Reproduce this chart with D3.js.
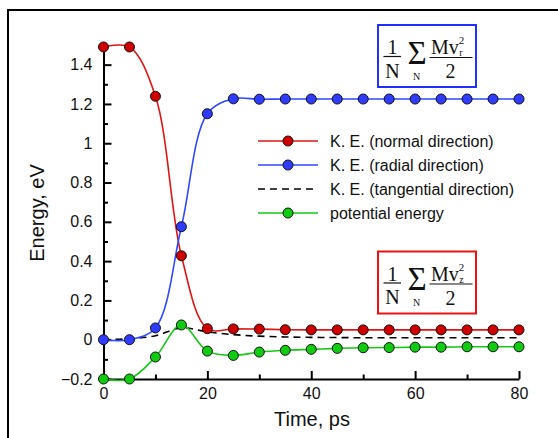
<!DOCTYPE html>
<html>
<head>
<meta charset="utf-8">
<script src="https://cdn.jsdelivr.net/npm/d3@7"></script>
<style>
  body { margin: 0; background: #fff; }
  svg { display: block; font-family: "Liberation Sans", Arial, sans-serif; }
</style>
</head>
<body>
<svg id="chart" width="558" height="438"></svg>
<script>
// data, one value every 5 ps
const time = [0, 5, 10, 15, 20, 25, 30, 35, 40, 45, 50, 55, 60, 65, 70, 75, 80];
const keNormal = [1.49, 1.49, 1.239, 0.427, 0.056, 0.055, 0.054, 0.051, 0.05, 0.05, 0.05, 0.05, 0.05, 0.05, 0.05, 0.05, 0.05];
const keRadial = [0, 0, 0.06, 0.575, 1.15, 1.226, 1.224, 1.225, 1.225, 1.225, 1.225, 1.225, 1.225, 1.225, 1.225, 1.225, 1.225];
const keTangential = [0, 0.005, 0.02, 0.06, 0.04, 0.026, 0.018, 0.014, 0.012, 0.011, 0.01, 0.01, 0.01, 0.01, 0.01, 0.01, 0.01];
const potential = [-0.2, -0.2, -0.088, 0.075, -0.058, -0.08, -0.063, -0.054, -0.049, -0.044, -0.041, -0.04, -0.038, -0.038, -0.036, -0.036, -0.036];

const xTicks = [0, 20, 40, 60, 80];
const xMinorTicks = [10, 30, 50, 70];
const yTicks = [-0.2, 0, 0.2, 0.4, 0.6, 0.8, 1, 1.2, 1.4];
const yMinorTicks = [-0.1, 0.1, 0.3, 0.5, 0.7, 0.9, 1.1, 1.3];

const legendLabels = ['K. E. (normal direction)', 'K. E. (radial direction)', 'K. E. (tangential direction)', 'potential energy'];

const series = [
  { values: keNormal, line: '#e01515', fill: '#d00000', markers: true },
  { values: keRadial, line: '#3048ff', fill: '#2f3cff', markers: true },
  { values: keTangential, line: '#000', fill: null, markers: false, dash: '7,5' },
  { values: potential, line: '#14c814', fill: '#10cc10', markers: true },
];

const svg = d3.select('#chart');

const x = d3.scaleLinear().domain([0, 80]).range([103.5, 519]);
const y = d3.scaleLinear().domain([-0.2, 1.5]).range([379, 45]);

// outer frame (only top and left edges show)
svg.append('path')
  .attr('d', 'M8,440V10H560')
  .attr('fill', 'none')
  .attr('stroke', '#000')
  .attr('stroke-width', 2);

const yFormat = d => (Math.abs(d) < 1e-9 ? '0' : d3.format('')(+d.toFixed(1)));

// y axis
svg.append('g')
  .attr('transform', `translate(${x(0)},0)`)
  .call(d3.axisLeft(y).tickValues(yTicks).tickSize(-8).tickSizeOuter(0).tickPadding(11).tickFormat(yFormat));
svg.append('g')
  .attr('transform', `translate(${x(0)},0)`)
  .call(d3.axisLeft(y).tickValues(yMinorTicks).tickSize(-4.5).tickSizeOuter(0).tickFormat(''))
  .call(g => g.select('.domain').remove());

// x axis
svg.append('g')
  .attr('transform', `translate(0,${y(-0.2)})`)
  .call(d3.axisBottom(x).tickValues(xTicks).tickSize(-8).tickSizeOuter(0).tickPadding(9));
svg.append('g')
  .attr('transform', `translate(0,${y(-0.2)})`)
  .call(d3.axisBottom(x).tickValues(xMinorTicks).tickSize(-4.5).tickSizeOuter(0).tickFormat(''))
  .call(g => g.select('.domain').remove());

svg.selectAll('.domain, .tick line')
  .attr('stroke', '#000')
  .attr('stroke-width', 2);
svg.selectAll('.tick text')
  .attr('fill', '#111')
  .attr('font-size', 16)
  .attr('font-family', '"Liberation Sans", Arial, sans-serif');

// axis titles
svg.append('text')
  .attr('x', 312)
  .attr('y', 426)
  .attr('text-anchor', 'middle')
  .attr('font-size', 20)
  .attr('fill', '#111')
  .text('Time, ps');

svg.append('text')
  .attr('transform', 'translate(44,213) rotate(-90)')
  .attr('text-anchor', 'middle')
  .attr('font-size', 20)
  .attr('fill', '#111')
  .text('Energy, eV');

// curves
const line = d3.line()
  .x((d, i) => x(time[i]))
  .y(d => y(d))
  .curve(d3.curveCatmullRom.alpha(0.5));

// dashed one first, then the coloured ones over it
[2, 3, 0, 1].forEach((k) => {
  const s = series[k];
  svg.append('path')
    .datum(s.values)
    .attr('d', line)
    .attr('fill', 'none')
    .attr('stroke', s.line)
    .attr('stroke-width', 1.6)
    .attr('stroke-dasharray', s.dash || null);
});

[3, 0, 1].forEach((k) => {
  const s = series[k];
  svg.append('g')
    .selectAll('circle')
    .data(s.values)
    .enter().append('circle')
    .attr('cx', (d, i) => x(time[i]))
    .attr('cy', d => y(d))
    .attr('r', 5)
    .attr('fill', s.fill)
    .attr('stroke', '#111')
    .attr('stroke-width', 1);
});

// legend
const legend = svg.append('g');
legendLabels.forEach((label, i) => {
  const s = series[i];
  const cy = 141 + (i * 24);
  legend.append('line')
    .attr('x1', 258)
    .attr('x2', 318)
    .attr('y1', cy)
    .attr('y2', cy)
    .attr('stroke', s.line)
    .attr('stroke-width', 1.6)
    .attr('stroke-dasharray', s.dash || null);
  if (s.markers) {
    legend.append('circle')
      .attr('cx', 288)
      .attr('cy', cy)
      .attr('r', 5)
      .attr('fill', s.fill)
      .attr('stroke', '#111')
      .attr('stroke-width', 1);
  }
  legend.append('text')
    .attr('x', 330)
    .attr('y', cy)
    .attr('dy', '0.35em')
    .attr('font-size', 16)
    .attr('fill', '#111')
    .text(label);
});

// formula boxes: (1/N) sum_N M v^2 / 2
function formula(top, color, sub) {
  const g = svg.append('g')
    .attr('transform', `translate(378,${top})`)
    .attr('font-family', '"Liberation Serif", "Times New Roman", serif')
    .attr('fill', '#111');
  g.append('rect')
    .attr('x', 0)
    .attr('y', 0)
    .attr('width', 98)
    .attr('height', 62)
    .attr('fill', '#fff')
    .attr('stroke', color)
    .attr('stroke-width', 2);
  g.append('text').attr('x', 14.5).attr('y', 29).attr('text-anchor', 'middle').attr('font-size', 20).text('1');
  g.append('line').attr('x1', 5.5).attr('x2', 23).attr('y1', 31.5).attr('y2', 31.5).attr('stroke', '#111').attr('stroke-width', 1.2);
  g.append('text').attr('x', 14.5).attr('y', 52.5).attr('text-anchor', 'middle').attr('font-size', 20).text('N');

  const sum = g.append('text').attr('x', 39).attr('y', 38.5).attr('text-anchor', 'middle');
  sum.append('tspan').attr('font-size', 33).text('Σ');
  sum.append('tspan').attr('x', 38.5).attr('dy', 16).attr('font-size', 10).text('N');

  const mv = g.append('text').attr('x', 53).attr('y', 29).attr('font-size', 20);
  mv.append('tspan').text('Mv');
  mv.append('tspan').attr('dy', -10).attr('font-size', 11).text('2');
  mv.append('tspan').attr('dx', -5).attr('dy', 12).attr('font-size', 10).text(sub);

  g.append('line').attr('x1', 51.5).attr('x2', 94.5).attr('y1', 32.5).attr('y2', 32.5).attr('stroke', '#111').attr('stroke-width', 1.2);
  g.append('text').attr('x', 72.5).attr('y', 53).attr('text-anchor', 'middle').attr('font-size', 20).text('2');
}

formula(25, '#2030ff', 'r');
formula(251.5, '#ee1111', 'z');
</script>
</body>
</html>
